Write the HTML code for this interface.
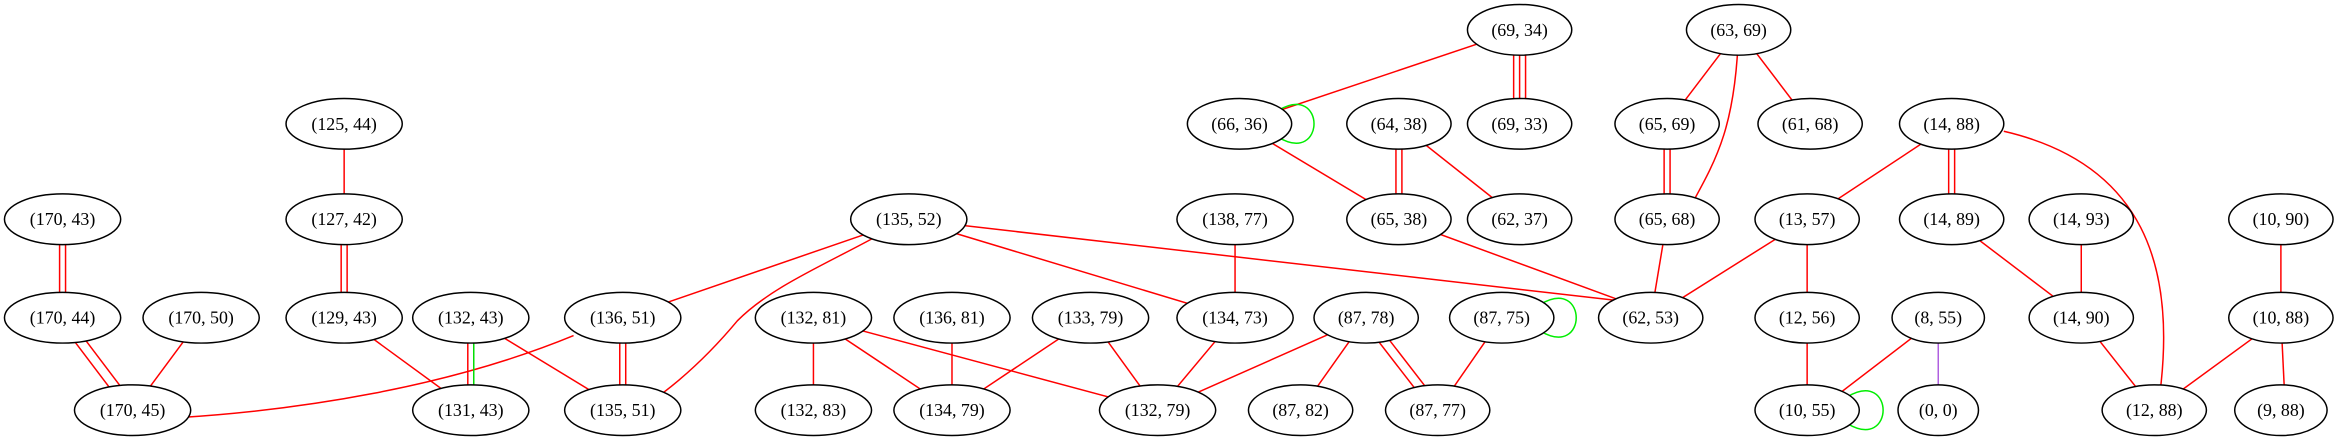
<!DOCTYPE html>
<html><head><meta charset="utf-8"><style>html,body{margin:0;padding:0;background:#fff}svg{display:block}</style></head>
<body>
<svg width="2339" height="443" viewBox="0 0 1570 297" preserveAspectRatio="none" xmlns="http://www.w3.org/2000/svg">
<g fill="none" stroke="#ff0000" stroke-width="1">
<line x1="1020" y1="20" x2="832" y2="83"/>
<line x1="1016" y1="20" x2="1016" y2="83"/><line x1="1020" y1="20" x2="1020" y2="83"/><line x1="1024" y1="20" x2="1024" y2="83"/>
<line x1="1167" y1="20" x2="1119" y2="83"/>
<path d="M1167,20 C1165,90 1150,110 1130,147"/>
<line x1="1167" y1="20" x2="1215" y2="83"/>
<line x1="937" y1="83" x2="937" y2="147"/><line x1="941" y1="83" x2="941" y2="147"/>
<line x1="939" y1="83" x2="1020" y2="147"/>
<line x1="832" y1="83" x2="939" y2="147"/>
<line x1="1117" y1="83" x2="1117" y2="147"/><line x1="1121" y1="83" x2="1121" y2="147"/>
<line x1="939" y1="147" x2="1092" y2="203"/>
<line x1="1119" y1="147" x2="1108" y2="213"/>
<line x1="1310" y1="83" x2="1213" y2="147"/>
<line x1="1308" y1="83" x2="1308" y2="147"/><line x1="1312" y1="83" x2="1312" y2="147"/>
<path d="M1345,88 C1440,110 1460,180 1450,262"/>
<line x1="1213" y1="147" x2="1108" y2="213"/>
<line x1="1213" y1="147" x2="1213" y2="213"/>
<line x1="1310" y1="147" x2="1397" y2="213"/>
<line x1="1397" y1="147" x2="1397" y2="213"/>
<line x1="1531" y1="147" x2="1531" y2="213"/>
<line x1="1531" y1="213" x2="1446" y2="275"/>
<line x1="1531" y1="213" x2="1534" y2="275"/>
<line x1="1397" y1="213" x2="1446" y2="275"/>
<line x1="1213" y1="213" x2="1213" y2="275"/>
<line x1="1301" y1="213" x2="1220" y2="275"/>
<line x1="231" y1="83" x2="231" y2="147"/>
<line x1="229" y1="147" x2="229" y2="213"/><line x1="233" y1="147" x2="233" y2="213"/>
<line x1="231" y1="213" x2="316" y2="275"/>
<line x1="40" y1="147" x2="40" y2="213"/><line x1="44" y1="147" x2="44" y2="213"/>
<line x1="38" y1="213" x2="85" y2="275"/><line x1="46" y1="213" x2="93" y2="275"/>
<line x1="135" y1="213" x2="89" y2="275"/>
<line x1="314" y1="213" x2="314" y2="275"/>
<line x1="316" y1="213" x2="418" y2="275"/>
<line x1="610" y1="147" x2="418" y2="213"/>
<path d="M600,152 C560,175 520,190 495,215 C470,245 440,270 425,275"/>
<line x1="610" y1="147" x2="829" y2="213"/>
<line x1="610" y1="147" x2="1090" y2="202"/>
<path d="M385,225 C300,260 200,275 120,280"/>
<line x1="416" y1="213" x2="416" y2="275"/><line x1="420" y1="213" x2="420" y2="275"/>
<line x1="829" y1="147" x2="829" y2="213"/>
<line x1="829" y1="213" x2="777" y2="275"/>
<line x1="546" y1="213" x2="546" y2="275"/>
<line x1="546" y1="213" x2="639" y2="275"/>
<line x1="546" y1="213" x2="777" y2="275"/>
<line x1="639" y1="213" x2="639" y2="275"/>
<line x1="732" y1="213" x2="639" y2="275"/>
<line x1="732" y1="213" x2="777" y2="275"/>
<line x1="917" y1="213" x2="777" y2="275"/>
<line x1="917" y1="213" x2="873" y2="275"/>
<line x1="913" y1="213" x2="961" y2="275"/><line x1="921" y1="213" x2="969" y2="275"/>
<line x1="1008" y1="213" x2="965" y2="275"/>
</g>
<line x1="318" y1="213" x2="318" y2="275" stroke="#00dd00"/>
<line x1="1301" y1="213" x2="1301" y2="275" stroke="#b060e0"/>
<g fill="none" stroke="#00ee00">
<path d="M858,74 C890,55 890,111 858,92"/>
<path d="M1034,204 C1066,185 1066,241 1034,222"/>
<path d="M1240,266 C1272,247 1272,303 1240,284"/>
</g>
<g fill="#fff" stroke="#000" stroke-width="1">
<ellipse cx="1020" cy="20" rx="35" ry="17"/><ellipse cx="1167" cy="20" rx="35" ry="17"/>
<ellipse cx="231" cy="83" rx="39" ry="17"/><ellipse cx="832" cy="83" rx="35" ry="17"/><ellipse cx="939" cy="83" rx="35" ry="17"/><ellipse cx="1020" cy="83" rx="35" ry="17"/><ellipse cx="1119" cy="83" rx="35" ry="17"/><ellipse cx="1215" cy="83" rx="35" ry="17"/><ellipse cx="1310" cy="83" rx="35" ry="17"/>
<ellipse cx="42" cy="147" rx="39" ry="17"/><ellipse cx="231" cy="147" rx="39" ry="17"/><ellipse cx="610" cy="147" rx="39" ry="17"/><ellipse cx="829" cy="147" rx="39" ry="17"/><ellipse cx="939" cy="147" rx="35" ry="17"/><ellipse cx="1020" cy="147" rx="35" ry="17"/><ellipse cx="1119" cy="147" rx="35" ry="17"/><ellipse cx="1213" cy="147" rx="35" ry="17"/><ellipse cx="1310" cy="147" rx="35" ry="17"/><ellipse cx="1397" cy="147" rx="35" ry="17"/><ellipse cx="1531" cy="147" rx="35" ry="17"/>
<ellipse cx="42" cy="213" rx="39" ry="17"/><ellipse cx="135" cy="213" rx="39" ry="17"/><ellipse cx="231" cy="213" rx="39" ry="17"/><ellipse cx="316" cy="213" rx="39" ry="17"/><ellipse cx="418" cy="213" rx="39" ry="17"/><ellipse cx="546" cy="213" rx="39" ry="17"/><ellipse cx="639" cy="213" rx="39" ry="17"/><ellipse cx="732" cy="213" rx="39" ry="17"/><ellipse cx="829" cy="213" rx="39" ry="17"/><ellipse cx="917" cy="213" rx="35" ry="17"/><ellipse cx="1008" cy="213" rx="35" ry="17"/><ellipse cx="1108" cy="213" rx="35" ry="17"/><ellipse cx="1213" cy="213" rx="35" ry="17"/><ellipse cx="1301" cy="213" rx="31" ry="17"/><ellipse cx="1397" cy="213" rx="35" ry="17"/><ellipse cx="1531" cy="213" rx="35" ry="17"/>
<ellipse cx="89" cy="275" rx="39" ry="17"/><ellipse cx="316" cy="275" rx="39" ry="17"/><ellipse cx="418" cy="275" rx="39" ry="17"/><ellipse cx="546" cy="275" rx="39" ry="17"/><ellipse cx="639" cy="275" rx="39" ry="17"/><ellipse cx="777" cy="275" rx="39" ry="17"/><ellipse cx="873" cy="275" rx="35" ry="17"/><ellipse cx="965" cy="275" rx="35" ry="17"/><ellipse cx="1213" cy="275" rx="35" ry="17"/><ellipse cx="1301" cy="275" rx="27" ry="17"/><ellipse cx="1446" cy="275" rx="35" ry="17"/><ellipse cx="1531" cy="275" rx="31" ry="17"/>
</g>
<g font-family="Liberation Serif, serif" font-size="12" text-anchor="middle" fill="#000">
<text x="1020" y="24">(69, 34)</text><text x="1167" y="24">(63, 69)</text>
<text x="231" y="87">(125, 44)</text><text x="832" y="87">(66, 36)</text><text x="939" y="87">(64, 38)</text><text x="1020" y="87">(69, 33)</text><text x="1119" y="87">(65, 69)</text><text x="1215" y="87">(61, 68)</text><text x="1310" y="87">(14, 88)</text>
<text x="42" y="151">(170, 43)</text><text x="231" y="151">(127, 42)</text><text x="610" y="151">(135, 52)</text><text x="829" y="151">(138, 77)</text><text x="939" y="151">(65, 38)</text><text x="1020" y="151">(62, 37)</text><text x="1119" y="151">(65, 68)</text><text x="1213" y="151">(13, 57)</text><text x="1310" y="151">(14, 89)</text><text x="1397" y="151">(14, 93)</text><text x="1531" y="151">(10, 90)</text>
<text x="42" y="217">(170, 44)</text><text x="135" y="217">(170, 50)</text><text x="231" y="217">(129, 43)</text><text x="316" y="217">(132, 43)</text><text x="418" y="217">(136, 51)</text><text x="546" y="217">(132, 81)</text><text x="639" y="217">(136, 81)</text><text x="732" y="217">(133, 79)</text><text x="829" y="217">(134, 73)</text><text x="917" y="217">(87, 78)</text><text x="1008" y="217">(87, 75)</text><text x="1108" y="217">(62, 53)</text><text x="1213" y="217">(12, 56)</text><text x="1301" y="217">(8, 55)</text><text x="1397" y="217">(14, 90)</text><text x="1531" y="217">(10, 88)</text>
<text x="89" y="279">(170, 45)</text><text x="316" y="279">(131, 43)</text><text x="418" y="279">(135, 51)</text><text x="546" y="279">(132, 83)</text><text x="639" y="279">(134, 79)</text><text x="777" y="279">(132, 79)</text><text x="873" y="279">(87, 82)</text><text x="965" y="279">(87, 77)</text><text x="1213" y="279">(10, 55)</text><text x="1301" y="279">(0, 0)</text><text x="1446" y="279">(12, 88)</text><text x="1531" y="279">(9, 88)</text>
</g>
</svg>
</body></html>
